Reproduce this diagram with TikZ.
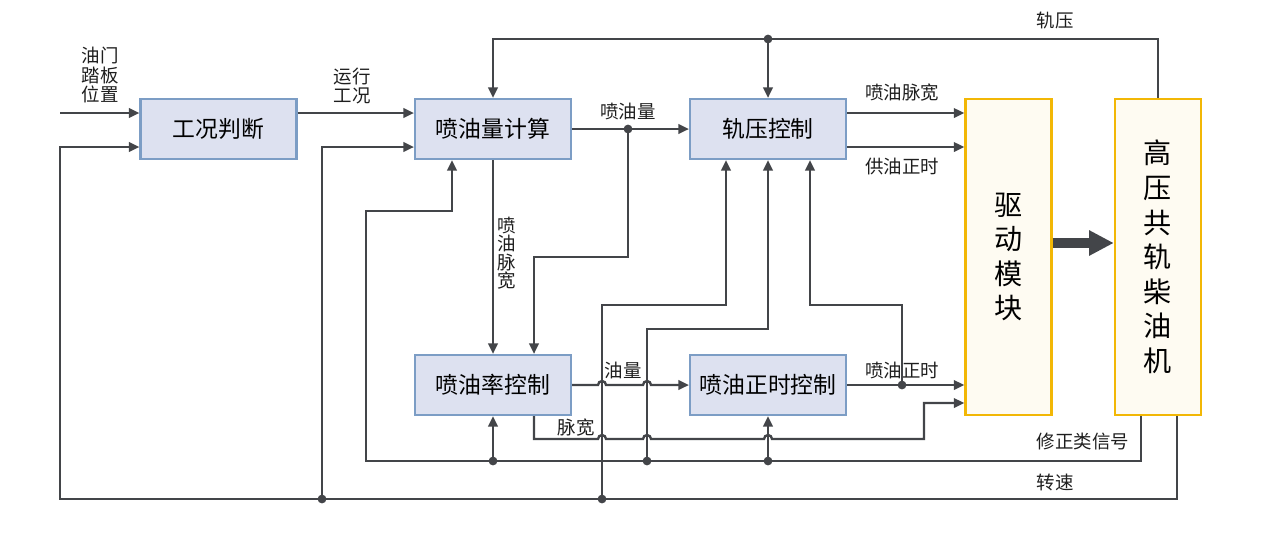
\documentclass[tikz,border=0pt]{standalone}
\usepackage{fontspec}
\newfontfamily\cjk{Noto Sans CJK SC}
\usetikzlibrary{arrows.meta}
\definecolor{ln}{HTML}{434549}
\definecolor{bfill}{HTML}{DDE1F0}
\definecolor{bdraw}{HTML}{7C9DC5}
\definecolor{yfill}{HTML}{FEFBF2}
\definecolor{ydraw}{HTML}{F2B705}
\definecolor{txt}{HTML}{1E1E1E}
\begin{document}
\begin{tikzpicture}[x=0.02cm,y=-0.02cm,
 blk/.style={draw=bdraw,fill=bfill,line width=1.2pt,minimum width=3.12cm,minimum height=1.2cm,inner sep=0pt,font=\cjk\fontsize{13}{15}\selectfont,text=black},
 ybox/.style={draw=ydraw,fill=yfill,line width=1.4pt,minimum width=1.72cm,minimum height=6.32cm,inner sep=0pt,align=center,font=\cjk\fontsize{16}{19.7}\selectfont},
 lbl/.style={font=\cjk\fontsize{10.5}{11.3}\selectfont,text=txt,inner sep=0pt,align=center},
 vlbl/.style={font=\cjk\fontsize{10.5}{10.5}\selectfont,text=txt,inner sep=0pt,align=center},
 wire/.style={draw=ln,line width=1.35pt},
 arr/.style={wire,-{Triangle[length=6pt,width=5.4pt]}},
 dot/.style={circle,fill=ln,inner sep=0pt,minimum size=5pt}
]
\useasboundingbox (0,0) rectangle (1266,538);

% blocks
\node[blk] (gk) at (218.5,129) {工况判断};
\node[blk] (jl) at (493,129) {喷油量计算};
\node[blk] (gy) at (768,129) {轨压控制};
\node[blk] (pl) at (493,385) {喷油率控制};
\node[blk] (zs) at (768,385) {喷油正时控制};
\node[ybox] (qd) at (1008.5,257) {驱\\动\\模\\块};
\node[ybox] (cy) at (1158,257) {高\\压\\共\\轨\\柴\\油\\机};

% input pedal
\coordinate (in1) at (60,113);
\draw[arr] (in1) -- (in1 -| gk.west);
\node[lbl] (l1) at (100,75) {油门\\踏板\\位置};

% gk -> jl
\draw[arr] (gk.east |- in1) -- (jl.west |- in1);
\node[lbl] (l2) at (352,86) {运行\\工况};

% speed
\coordinate (sp) at (1177,499);
\coordinate (sl) at (60,499);
\coordinate (sg) at (60,147);
\draw[arr] (cy.south -| sp) -- (sp) -- (sl) -- (sg) -- (sg -| gk.west);
\node[lbl] (l3) at (1055,482) {转速};

\coordinate (d1) at (322,499);
\coordinate (d1t) at (322,147);
\draw[arr] (d1) -- (d1t) -- (d1t -| jl.west);

\coordinate (d2) at (602,499);
\coordinate (d2a) at (602,305);
\coordinate (d2b) at (726,305);
\draw[arr] (d2) -- (d2a) -- (d2b) -- (d2b |- gy.south);

% correction signals
\coordinate (c1) at (1141,461);
\coordinate (c2) at (366,461);
\coordinate (c3) at (366,211);
\coordinate (c4) at (452,211);
\draw[arr] (cy.south -| c1) -- (c1) -- (c2) -- (c3) -- (c4) -- (c4 |- jl.south);
\node[lbl] (l4) at (1083,441) {修正类信号};

\coordinate (e1) at (493,461);
\draw[arr] (e1) -- (pl.south);
\coordinate (e2) at (647,461);
\coordinate (e2a) at (647,329);
\coordinate (e2b) at (768,329);
\draw[arr] (e2) -- (e2a) -- (e2b) -- (gy.south);
\coordinate (e3) at (768,461);
\draw[arr] (e3) -- (zs.south);

% rail pressure feedback
\coordinate (t1) at (1158,39);
\coordinate (t2) at (493,39);
\coordinate (t3) at (768,39);
\draw[arr] (cy.north) -- (t1) -- (t2) -- (jl.north);
\draw[arr] (t3) -- (gy.north);
\node[lbl] (l5) at (1055,20) {轨压};

% injection quantity
\draw[arr] (jl.east) -- (gy.west);
\node[lbl] (l6) at (628,112) {喷油量};
\coordinate (f1) at (628,129);
\coordinate (f2) at (628,257);
\coordinate (f3) at (534,257);
\draw[arr] (f1) -- (f2) -- (f3) -- (f3 |- pl.north);

\draw[arr] (jl.south) -- (pl.north);
\node[vlbl] (l7) at (507,253) {喷\\油\\脉\\宽};

% oil quantity with hops
\draw[arr] (pl.east) -- (598,385) arc[start angle=180,end angle=0,radius=0.08cm]
  -- (643,385) arc[start angle=180,end angle=0,radius=0.08cm] -- (zs.west);
\node[lbl] (l8) at (623,370) {油量};

% pulse width with hops
\coordinate (g1) at (534,439);
\coordinate (g2) at (924,439);
\coordinate (g3) at (924,403);
\draw[arr] (g1 |- pl.south) -- (g1) -- (598,439) arc[start angle=180,end angle=0,radius=0.08cm]
  -- (643,439) arc[start angle=180,end angle=0,radius=0.08cm]
  -- (764,439) arc[start angle=180,end angle=0,radius=0.08cm]
  -- (g2) -- (g3) -- (g3 -| qd.west);
\node[lbl] (l9) at (576,428) {脉宽};

% injection timing
\draw[arr] (zs.east) -- (zs.east -| qd.west);
\node[lbl] (l10) at (902,370) {喷油正时};
\coordinate (h1) at (902,385);
\coordinate (h2) at (902,305);
\coordinate (h3) at (810,305);
\draw[arr] (h1) -- (h2) -- (h3) -- (h3 |- gy.south);

% rail control -> drive
\coordinate (k1) at (846,113);
\coordinate (k2) at (846,147);
\draw[arr] (gy.east |- k1) -- (k1 -| qd.west);
\draw[arr] (gy.east |- k2) -- (k2 -| qd.west);
\node[lbl] (l11) at (902,93) {喷油脉宽};
\node[lbl] (l12) at (902,167) {供油正时};

% thick arrow
\coordinate (m1) at (1052,243);
\draw[draw=ln,line width=0.2cm,-{Triangle[length=14pt,width=13.5pt]}] (m1 -| qd.east) -- (m1 -| cy.west);

% junction dots
\node[dot] (n1) at (d1) {};
\node[dot] (n2) at (d2) {};
\node[dot] (n3) at (e1) {};
\node[dot] (n4) at (e2) {};
\node[dot] (n5) at (e3) {};
\node[dot] (n6) at (t3) {};
\node[dot] (n7) at (f1) {};
\node[dot] (n8) at (h1) {};
\end{tikzpicture}
\end{document}
